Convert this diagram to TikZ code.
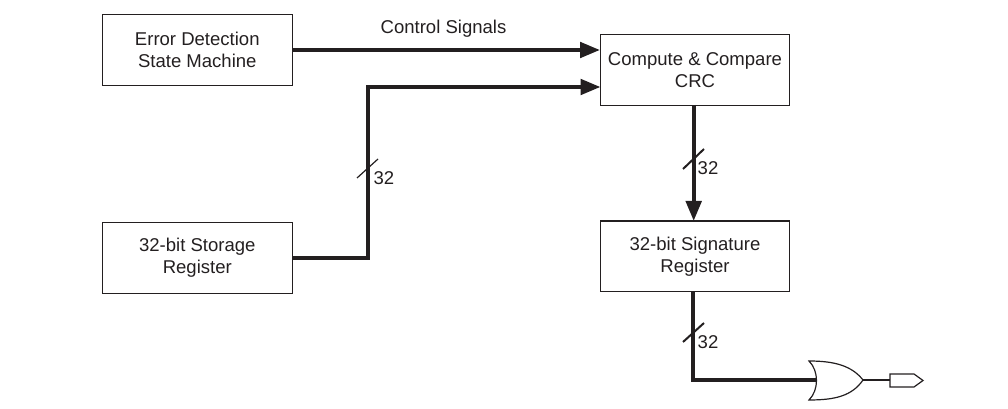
\documentclass[tikz,border=0pt]{standalone}
\usepackage{fontspec}
\setmainfont{Liberation Sans}
\usetikzlibrary{arrows.meta}
\definecolor{ink}{HTML}{231F20}

\begin{document}
\begin{tikzpicture}[
        x=0.75pt,
        y=-0.75pt,
        every node/.style={font=\fontsize{13.9}{16.6}\selectfont, text=ink},
        regbox/.style={
            draw=ink,
            line width=1pt,
            align=center,
            minimum height=53pt,
            inner sep=0pt
        },
        leftbox/.style={regbox, minimum width=142.5pt},
        rightbox/.style={regbox, minimum width=141.5pt},
        bus/.style={draw=ink, line width=3pt},
        busarrow/.style={bus, -{Triangle[length=15pt, width=11.5pt]}},
        tick/.style={draw=ink, line width=1.5pt},
        thinline/.style={draw=ink, line width=0.9pt}
    ]
        \useasboundingbox (0,0) rectangle (1008,409);

        % Left column
        \node[leftbox] (errorfsm) at (197.3,50) {Error Detection\\State Machine};
        \node[leftbox] (storage) at (197.3,258) {32-bit Storage\\Register};

        % Right column
        \node[rightbox] (crc) at (695,70) {Compute \& Compare\\CRC};
        \node[rightbox] (signature) at (695,256.5) {32-bit Signature\\Register};

        \node at (443.5,29) (ctrllabel) {Control Signals};

        % Ends of the connectors
        \coordinate (crcin) at (600.5,87);
        \coordinate (crcbus) at (693.7,105);
        \coordinate (sigbus) at (693.7,221);
        \coordinate (sigout) at (692.7,292);
        \coordinate (orin) at (816,380);
        \coordinate (orout) at (863,380);
        \coordinate (pinin) at (890,380);

        % Buses
        \draw[busarrow] (errorfsm.east) -- (crc.west |- errorfsm.east);
        \draw[busarrow] (storage.east) -| (368.3,87) -- (crcin);
        \draw[busarrow] (crcbus) -- (sigbus);
        \draw[bus] (sigout) |- (orin);

        % Width marks
        \draw[thinline] (357,178) -- (378,159);
        \node (widthstore) at (384,178) {32};
        \draw[tick] (683,169) -- (704,149);
        \node (widthcrc) at (708,168) {32};
        \draw[tick] (683,342) -- (704,323);
        \node (widthsig) at (708,342) {32};

        % Or gate and output pin
        \draw[thinline] (809,361)
            .. controls (819,371) and (819,390) .. (809,400)
            .. controls (835,400) and (852,396) .. (orout)
            .. controls (852,366) and (835,361) .. cycle;
        \draw[thinline] (orout) -- (pinin);
        \draw[thinline] (pinin) -- (890,374) -- (914,374) -- (923,380.5)
            -- (914,387) -- (890,387) -- cycle;
    \end{tikzpicture}
\end{document}
